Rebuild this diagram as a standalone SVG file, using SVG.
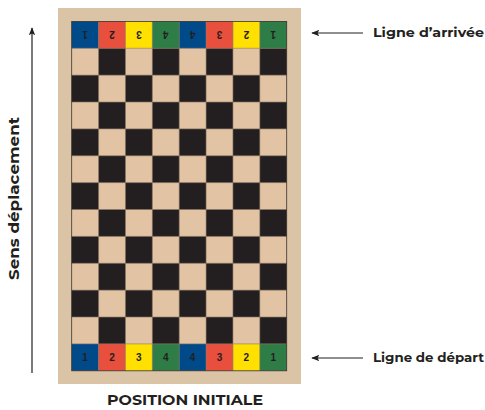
<svg xmlns="http://www.w3.org/2000/svg" xmlns:xlink="http://www.w3.org/1999/xlink" width="485" height="410" viewBox="0 0 485 410">
<style>
.lbl{font-family:"Montserrat","Liberation Sans",Arial,sans-serif;font-weight:bold;fill:#231f20}
.num{font-family:"Liberation Sans",Arial,sans-serif;font-weight:bold;font-size:10px;fill:#231f20;text-anchor:middle}
.arr{stroke:#231f20;stroke-width:1.2;fill:none}
.b{fill:#004a8a}.r{fill:#e84f3d}.y{fill:#ffe000}.g{fill:#2e7d46}
</style>
<defs>
<marker id="ah" viewBox="0 0 10 8" refX="9" refY="4" markerWidth="8" markerHeight="6.4" markerUnits="userSpaceOnUse" orient="auto">
<path d="M0,0 L10,4 L0,8 L2,4 Z" fill="#231f20"/>
</marker>
<rect id="dk" width="26.875" height="26.875" fill="#231f20"/>
<rect id="c" width="26.875" height="26.875"/>
</defs>
<rect width="485" height="410" fill="#ffffff"/>
<g id="board">
<rect x="58" y="8" width="243" height="376" fill="#dbc3a6"/>
<rect x="71.7" y="21.4" width="215" height="349.4" fill="#e2c4a4"/>
<g id="dark">
<use xlink:href="#dk" x="98.58" y="48.28"/><use xlink:href="#dk" x="152.33" y="48.28"/><use xlink:href="#dk" x="206.08" y="48.28"/><use xlink:href="#dk" x="259.83" y="48.28"/>
<use xlink:href="#dk" x="71.7" y="75.15"/><use xlink:href="#dk" x="125.45" y="75.15"/><use xlink:href="#dk" x="179.2" y="75.15"/><use xlink:href="#dk" x="232.95" y="75.15"/>
<use xlink:href="#dk" x="98.58" y="102.03"/><use xlink:href="#dk" x="152.33" y="102.03"/><use xlink:href="#dk" x="206.08" y="102.03"/><use xlink:href="#dk" x="259.83" y="102.03"/>
<use xlink:href="#dk" x="71.7" y="128.9"/><use xlink:href="#dk" x="125.45" y="128.9"/><use xlink:href="#dk" x="179.2" y="128.9"/><use xlink:href="#dk" x="232.95" y="128.9"/>
<use xlink:href="#dk" x="98.58" y="155.78"/><use xlink:href="#dk" x="152.33" y="155.78"/><use xlink:href="#dk" x="206.08" y="155.78"/><use xlink:href="#dk" x="259.83" y="155.78"/>
<use xlink:href="#dk" x="71.7" y="182.65"/><use xlink:href="#dk" x="125.45" y="182.65"/><use xlink:href="#dk" x="179.2" y="182.65"/><use xlink:href="#dk" x="232.95" y="182.65"/>
<use xlink:href="#dk" x="98.58" y="209.53"/><use xlink:href="#dk" x="152.33" y="209.53"/><use xlink:href="#dk" x="206.08" y="209.53"/><use xlink:href="#dk" x="259.83" y="209.53"/>
<use xlink:href="#dk" x="71.7" y="236.4"/><use xlink:href="#dk" x="125.45" y="236.4"/><use xlink:href="#dk" x="179.2" y="236.4"/><use xlink:href="#dk" x="232.95" y="236.4"/>
<use xlink:href="#dk" x="98.58" y="263.28"/><use xlink:href="#dk" x="152.33" y="263.28"/><use xlink:href="#dk" x="206.08" y="263.28"/><use xlink:href="#dk" x="259.83" y="263.28"/>
<use xlink:href="#dk" x="71.7" y="290.15"/><use xlink:href="#dk" x="125.45" y="290.15"/><use xlink:href="#dk" x="179.2" y="290.15"/><use xlink:href="#dk" x="232.95" y="290.15"/>
<use xlink:href="#dk" x="98.58" y="317.03"/><use xlink:href="#dk" x="152.33" y="317.03"/><use xlink:href="#dk" x="206.08" y="317.03"/><use xlink:href="#dk" x="259.83" y="317.03"/>
</g>
<g id="arrivee-row">
<use xlink:href="#c" class="b" x="71.7" y="21.4"/><use xlink:href="#c" class="r" x="98.58" y="21.4"/><use xlink:href="#c" class="y" x="125.45" y="21.4"/><use xlink:href="#c" class="g" x="152.33" y="21.4"/>
<use xlink:href="#c" class="b" x="179.2" y="21.4"/><use xlink:href="#c" class="r" x="206.08" y="21.4"/><use xlink:href="#c" class="y" x="232.95" y="21.4"/><use xlink:href="#c" class="g" x="259.83" y="21.4"/>
</g>
<g id="depart-row">
<use xlink:href="#c" class="b" x="71.7" y="343.9"/><use xlink:href="#c" class="r" x="98.58" y="343.9"/><use xlink:href="#c" class="y" x="125.45" y="343.9"/><use xlink:href="#c" class="g" x="152.33" y="343.9"/>
<use xlink:href="#c" class="b" x="179.2" y="343.9"/><use xlink:href="#c" class="r" x="206.08" y="343.9"/><use xlink:href="#c" class="y" x="232.95" y="343.9"/><use xlink:href="#c" class="g" x="259.83" y="343.9"/>
</g>
<path id="gridlines" fill="none" stroke="#8a7663" stroke-width="0.6" d="M98.58,21.4V370.8M125.45,21.4V370.8M152.33,21.4V370.8M179.2,21.4V370.8M206.08,21.4V370.8M232.95,21.4V370.8M259.83,21.4V370.8M71.7,48.28H286.7M71.7,75.15H286.7M71.7,102.03H286.7M71.7,128.9H286.7M71.7,155.78H286.7M71.7,182.65H286.7M71.7,209.53H286.7M71.7,236.4H286.7M71.7,263.28H286.7M71.7,290.15H286.7M71.7,317.03H286.7M71.7,343.9H286.7"/>
<rect x="71.7" y="21.4" width="215" height="349.4" fill="none" stroke="#3a3230" stroke-width="0.8"/>
<g id="top-numbers">
<text class="num" x="85.14" y="38.4" transform="rotate(180 85.14 34.84)">1</text>
<text class="num" x="112.01" y="38.4" transform="rotate(180 112.01 34.84)">2</text>
<text class="num" x="138.89" y="38.4" transform="rotate(180 138.89 34.84)">3</text>
<text class="num" x="165.76" y="38.4" transform="rotate(180 165.76 34.84)">4</text>
<text class="num" x="192.64" y="38.4" transform="rotate(180 192.64 34.84)">4</text>
<text class="num" x="219.51" y="38.4" transform="rotate(180 219.51 34.84)">3</text>
<text class="num" x="246.39" y="38.4" transform="rotate(180 246.39 34.84)">2</text>
<text class="num" x="273.26" y="38.4" transform="rotate(180 273.26 34.84)">1</text>
</g>
<g id="bottom-numbers">
<text class="num" x="85.14" y="360.9">1</text>
<text class="num" x="112.01" y="360.9">2</text>
<text class="num" x="138.89" y="360.9">3</text>
<text class="num" x="165.76" y="360.9">4</text>
<text class="num" x="192.64" y="360.9">4</text>
<text class="num" x="219.51" y="360.9">3</text>
<text class="num" x="246.39" y="360.9">2</text>
<text class="num" x="273.26" y="360.9">1</text>
</g>
</g>
<g id="connectors">
<line class="arr" x1="363" y1="33" x2="312" y2="33" marker-end="url(#ah)"/>
<line class="arr" x1="363" y1="358" x2="312" y2="358" marker-end="url(#ah)"/>
<line class="arr" x1="32" y1="373" x2="32" y2="28" marker-end="url(#ah)"/>
</g>
<g id="label-arrivee"><text class="lbl" x="373" y="37" font-size="12" textLength="111" lengthAdjust="spacingAndGlyphs">Ligne d’arrivée</text></g>
<g id="label-depart"><text class="lbl" x="373" y="362" font-size="12" textLength="111" lengthAdjust="spacingAndGlyphs">Ligne de départ</text></g>
<g id="label-sens"><text class="lbl" x="0" y="0" font-size="14" text-anchor="middle" textLength="163" lengthAdjust="spacingAndGlyphs" transform="translate(18.5 198.5) rotate(-90)">Sens déplacement</text></g>
<g id="title"><text class="lbl" x="185" y="405" font-size="14" text-anchor="middle" textLength="156" lengthAdjust="spacingAndGlyphs">POSITION INITIALE</text></g>
</svg>
